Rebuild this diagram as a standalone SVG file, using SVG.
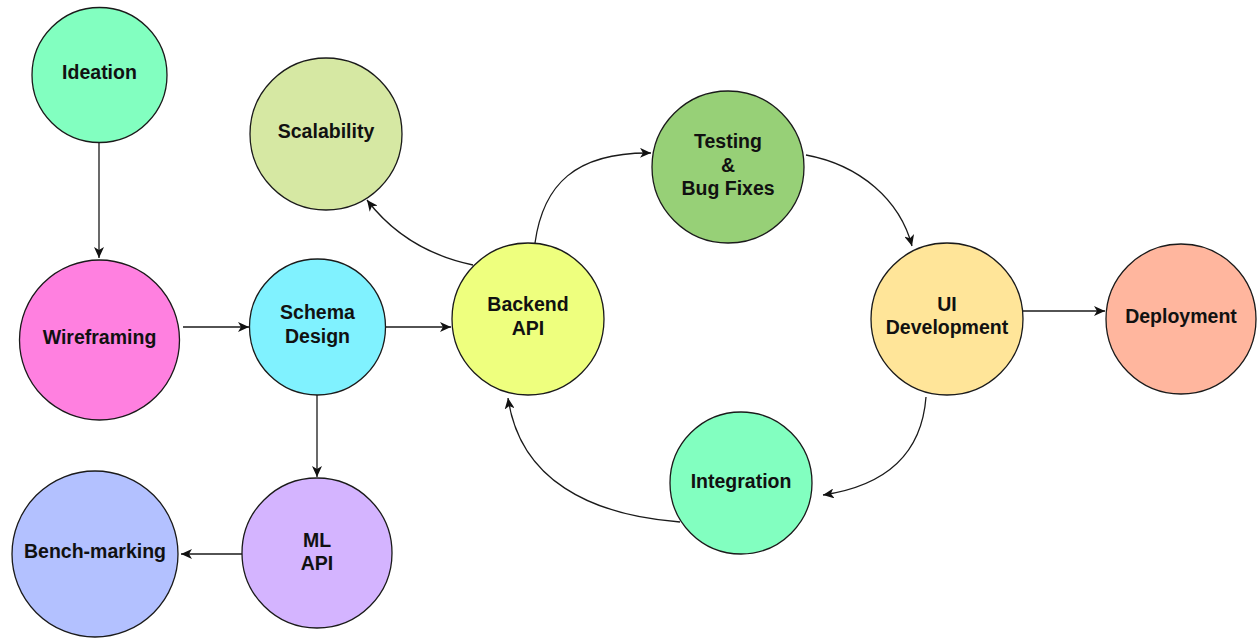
<svg xmlns="http://www.w3.org/2000/svg" width="1257" height="638" viewBox="0 0 1257 638">
  <style>
    .node circle { stroke: #1a1a1a; stroke-width: 1.3; }
    .node text { font-family: "Liberation Sans", Arial, sans-serif; font-weight: bold; font-size: 19.5px; fill: #111; text-anchor: middle; }
    .edge { fill: none; stroke: #1a1a1a; stroke-width: 1.3; marker-end: url(#arrow); }
  </style>
  <defs>
    <marker id="arrow" markerUnits="userSpaceOnUse" markerWidth="12" markerHeight="10" refX="11" refY="5" orient="auto">
      <path d="M0,0 L11,5 L0,10 L3,5 z" fill="#111"/>
    </marker>
  </defs>
  <rect width="1257" height="638" fill="#ffffff"/>

  <g id="connectors">
    <path class="edge" d="M99,143 L99,258"/>
    <path class="edge" d="M183,327 L249,327"/>
    <path class="edge" d="M386,327 L451,327"/>
    <path class="edge" d="M317,395 L317,477"/>
    <path class="edge" d="M242,554 L181,554"/>
    <path class="edge" d="M473,265 C430,256 393,234 367,200"/>
    <path class="edge" d="M535,243 C543,185 575,152 651,153"/>
    <path class="edge" d="M806,155 C860,165 900,200 912,246"/>
    <path class="edge" d="M926,397 C922,450 890,485 823,495"/>
    <path class="edge" d="M680,522 C590,515 520,480 508,398"/>
    <path class="edge" d="M1023,311 L1105,311"/>
  </g>

  <g id="ideation" class="node">
    <circle cx="99.5" cy="75" r="67.5" fill="#82FFC0"/>
    <text x="99.5" y="79">Ideation</text>
  </g>
  <g id="scalability" class="node">
    <circle cx="326" cy="134" r="76" fill="#D6E8A3"/>
    <text x="326" y="138">Scalability</text>
  </g>
  <g id="wireframing" class="node">
    <circle cx="99.5" cy="340" r="80" fill="#FF80E0"/>
    <text x="99.5" y="344">Wireframing</text>
  </g>
  <g id="schema-design" class="node">
    <circle cx="317.5" cy="327" r="68" fill="#80F2FF"/>
    <text x="317.5" y="319">Schema</text>
    <text x="317.5" y="343">Design</text>
  </g>
  <g id="backend-api" class="node">
    <circle cx="528" cy="319" r="76" fill="#EEFF7E"/>
    <text x="528" y="311">Backend</text>
    <text x="528" y="335">API</text>
  </g>
  <g id="testing" class="node">
    <circle cx="728" cy="167" r="76" fill="#97D077"/>
    <text x="728" y="148">Testing</text>
    <text x="728" y="172">&amp;</text>
    <text x="728" y="195">Bug Fixes</text>
  </g>
  <g id="ui-development" class="node">
    <circle cx="947" cy="319" r="76" fill="#FFE599"/>
    <text x="947" y="311">UI</text>
    <text x="947" y="334">Development</text>
  </g>
  <g id="deployment" class="node">
    <circle cx="1181" cy="319" r="75" fill="#FFB69E"/>
    <text x="1181" y="323">Deployment</text>
  </g>
  <g id="integration" class="node">
    <circle cx="741" cy="483" r="71" fill="#82FFC0"/>
    <text x="741" y="488">Integration</text>
  </g>
  <g id="ml-api" class="node">
    <circle cx="317" cy="553" r="75" fill="#D4B4FF"/>
    <text x="317" y="547">ML</text>
    <text x="317" y="570">API</text>
  </g>
  <g id="bench-marking" class="node">
    <circle cx="95" cy="554" r="83" fill="#B3C1FF"/>
    <text x="95" y="558">Bench-marking</text>
  </g>
</svg>
